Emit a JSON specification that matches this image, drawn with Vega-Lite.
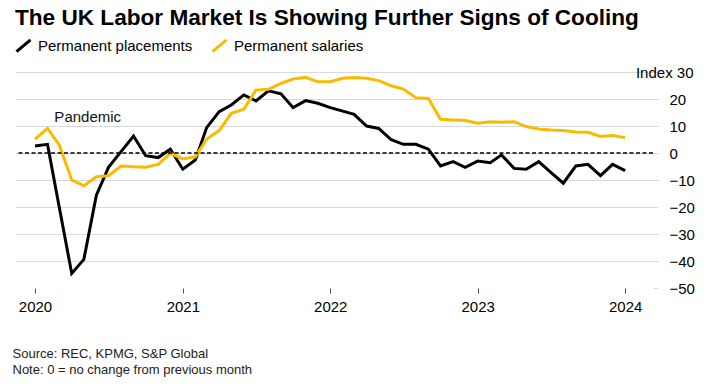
{
  "$schema": "https://vega.github.io/schema/vega-lite/v6.json",
  "width": 637,
  "height": 216,
  "autosize": "none",
  "padding": {"left": 16, "top": 72, "right": 63, "bottom": 102},
  "background": "white",
  "config": {"font": "Liberation Sans", "view": {"stroke": null}},
  "title": {
    "text": "The UK Labor Market Is Showing Further Signs of Cooling",
    "anchor": "start",
    "frame": "group",
    "fontSize": 22.6,
    "fontWeight": "bold",
    "color": "#000000",
    "offset": 7,
    "dx": -1
  },
  "datasets": {
    "series": [
      {"date": "2020-01-01T00:00", "series": "Permanent placements", "value": 2.6},
      {"date": "2020-02-01T00:00", "series": "Permanent placements", "value": 3.2},
      {"date": "2020-03-01T00:00", "series": "Permanent placements", "value": -20},
      {"date": "2020-04-01T00:00", "series": "Permanent placements", "value": -44.6},
      {"date": "2020-05-01T00:00", "series": "Permanent placements", "value": -39.4},
      {"date": "2020-06-01T00:00", "series": "Permanent placements", "value": -15.6},
      {"date": "2020-07-01T00:00", "series": "Permanent placements", "value": -5.3},
      {"date": "2020-08-01T00:00", "series": "Permanent placements", "value": 0.5},
      {"date": "2020-09-01T00:00", "series": "Permanent placements", "value": 6.3},
      {"date": "2020-10-01T00:00", "series": "Permanent placements", "value": -1.0},
      {"date": "2020-11-01T00:00", "series": "Permanent placements", "value": -1.7},
      {"date": "2020-12-01T00:00", "series": "Permanent placements", "value": 1.4},
      {"date": "2021-01-01T00:00", "series": "Permanent placements", "value": -6.0},
      {"date": "2021-02-01T00:00", "series": "Permanent placements", "value": -2.6},
      {"date": "2021-03-01T00:00", "series": "Permanent placements", "value": 9.4},
      {"date": "2021-04-01T00:00", "series": "Permanent placements", "value": 15.3},
      {"date": "2021-05-01T00:00", "series": "Permanent placements", "value": 17.8},
      {"date": "2021-06-01T00:00", "series": "Permanent placements", "value": 21.5},
      {"date": "2021-07-01T00:00", "series": "Permanent placements", "value": 19.3},
      {"date": "2021-08-01T00:00", "series": "Permanent placements", "value": 23.0},
      {"date": "2021-09-01T00:00", "series": "Permanent placements", "value": 21.9},
      {"date": "2021-10-01T00:00", "series": "Permanent placements", "value": 16.8},
      {"date": "2021-11-01T00:00", "series": "Permanent placements", "value": 19.4},
      {"date": "2021-12-01T00:00", "series": "Permanent placements", "value": 18.4},
      {"date": "2022-01-01T00:00", "series": "Permanent placements", "value": 16.8},
      {"date": "2022-02-01T00:00", "series": "Permanent placements", "value": 15.5},
      {"date": "2022-03-01T00:00", "series": "Permanent placements", "value": 14.3},
      {"date": "2022-04-01T00:00", "series": "Permanent placements", "value": 10.0},
      {"date": "2022-05-01T00:00", "series": "Permanent placements", "value": 9.1},
      {"date": "2022-06-01T00:00", "series": "Permanent placements", "value": 4.9},
      {"date": "2022-07-01T00:00", "series": "Permanent placements", "value": 3.2},
      {"date": "2022-08-01T00:00", "series": "Permanent placements", "value": 3.2},
      {"date": "2022-09-01T00:00", "series": "Permanent placements", "value": 1.4},
      {"date": "2022-10-01T00:00", "series": "Permanent placements", "value": -4.8},
      {"date": "2022-11-01T00:00", "series": "Permanent placements", "value": -3.2},
      {"date": "2022-12-01T00:00", "series": "Permanent placements", "value": -5.3},
      {"date": "2023-01-01T00:00", "series": "Permanent placements", "value": -3.0},
      {"date": "2023-02-01T00:00", "series": "Permanent placements", "value": -3.6},
      {"date": "2023-03-01T00:00", "series": "Permanent placements", "value": -0.7},
      {"date": "2023-04-01T00:00", "series": "Permanent placements", "value": -5.7},
      {"date": "2023-05-01T00:00", "series": "Permanent placements", "value": -6.0},
      {"date": "2023-06-01T00:00", "series": "Permanent placements", "value": -3.2},
      {"date": "2023-07-01T00:00", "series": "Permanent placements", "value": -7.2},
      {"date": "2023-08-01T00:00", "series": "Permanent placements", "value": -11.2},
      {"date": "2023-09-01T00:00", "series": "Permanent placements", "value": -4.8},
      {"date": "2023-10-01T00:00", "series": "Permanent placements", "value": -4.2},
      {"date": "2023-11-01T00:00", "series": "Permanent placements", "value": -8.4},
      {"date": "2023-12-01T00:00", "series": "Permanent placements", "value": -4.2},
      {"date": "2024-01-01T00:00", "series": "Permanent placements", "value": -6.5},
      {"date": "2020-01-01T00:00", "series": "Permanent salaries", "value": 5.1},
      {"date": "2020-02-01T00:00", "series": "Permanent salaries", "value": 9.1},
      {"date": "2020-03-01T00:00", "series": "Permanent salaries", "value": 3.0},
      {"date": "2020-04-01T00:00", "series": "Permanent salaries", "value": -10.0},
      {"date": "2020-05-01T00:00", "series": "Permanent salaries", "value": -12.1},
      {"date": "2020-06-01T00:00", "series": "Permanent salaries", "value": -8.8},
      {"date": "2020-07-01T00:00", "series": "Permanent salaries", "value": -8.4},
      {"date": "2020-08-01T00:00", "series": "Permanent salaries", "value": -4.8},
      {"date": "2020-09-01T00:00", "series": "Permanent salaries", "value": -5.1},
      {"date": "2020-10-01T00:00", "series": "Permanent salaries", "value": -5.3},
      {"date": "2020-11-01T00:00", "series": "Permanent salaries", "value": -4.2},
      {"date": "2020-12-01T00:00", "series": "Permanent salaries", "value": -0.1},
      {"date": "2021-01-01T00:00", "series": "Permanent salaries", "value": -2.2},
      {"date": "2021-02-01T00:00", "series": "Permanent salaries", "value": -1.4},
      {"date": "2021-03-01T00:00", "series": "Permanent salaries", "value": 5.2},
      {"date": "2021-04-01T00:00", "series": "Permanent salaries", "value": 8.3},
      {"date": "2021-05-01T00:00", "series": "Permanent salaries", "value": 14.7},
      {"date": "2021-06-01T00:00", "series": "Permanent salaries", "value": 16.2},
      {"date": "2021-07-01T00:00", "series": "Permanent salaries", "value": 23.3},
      {"date": "2021-08-01T00:00", "series": "Permanent salaries", "value": 23.6},
      {"date": "2021-09-01T00:00", "series": "Permanent salaries", "value": 25.8},
      {"date": "2021-10-01T00:00", "series": "Permanent salaries", "value": 27.4},
      {"date": "2021-11-01T00:00", "series": "Permanent salaries", "value": 28.0},
      {"date": "2021-12-01T00:00", "series": "Permanent salaries", "value": 26.4},
      {"date": "2022-01-01T00:00", "series": "Permanent salaries", "value": 26.4},
      {"date": "2022-02-01T00:00", "series": "Permanent salaries", "value": 27.7},
      {"date": "2022-03-01T00:00", "series": "Permanent salaries", "value": 28.0},
      {"date": "2022-04-01T00:00", "series": "Permanent salaries", "value": 27.7},
      {"date": "2022-05-01T00:00", "series": "Permanent salaries", "value": 26.8},
      {"date": "2022-06-01T00:00", "series": "Permanent salaries", "value": 24.9},
      {"date": "2022-07-01T00:00", "series": "Permanent salaries", "value": 23.7},
      {"date": "2022-08-01T00:00", "series": "Permanent salaries", "value": 20.5},
      {"date": "2022-09-01T00:00", "series": "Permanent salaries", "value": 20.2},
      {"date": "2022-10-01T00:00", "series": "Permanent salaries", "value": 12.5},
      {"date": "2022-11-01T00:00", "series": "Permanent salaries", "value": 12.2},
      {"date": "2022-12-01T00:00", "series": "Permanent salaries", "value": 12.0},
      {"date": "2023-01-01T00:00", "series": "Permanent salaries", "value": 11.0},
      {"date": "2023-02-01T00:00", "series": "Permanent salaries", "value": 11.6},
      {"date": "2023-03-01T00:00", "series": "Permanent salaries", "value": 11.4},
      {"date": "2023-04-01T00:00", "series": "Permanent salaries", "value": 11.6},
      {"date": "2023-05-01T00:00", "series": "Permanent salaries", "value": 9.8},
      {"date": "2023-06-01T00:00", "series": "Permanent salaries", "value": 8.9},
      {"date": "2023-07-01T00:00", "series": "Permanent salaries", "value": 8.5},
      {"date": "2023-08-01T00:00", "series": "Permanent salaries", "value": 8.3},
      {"date": "2023-09-01T00:00", "series": "Permanent salaries", "value": 7.8},
      {"date": "2023-10-01T00:00", "series": "Permanent salaries", "value": 7.7},
      {"date": "2023-11-01T00:00", "series": "Permanent salaries", "value": 6.1},
      {"date": "2023-12-01T00:00", "series": "Permanent salaries", "value": 6.5},
      {"date": "2024-01-01T00:00", "series": "Permanent salaries", "value": 5.7}
    ],
    "notes": [
      {"date": "2020-02-18T00:00", "value": 13.3, "label": "Pandemic"}
    ],
    "zero": [
      {"value": 0}
    ]
  },
  "layer": [
    {
      "data": {"name": "series"},
      "mark": {"type": "line", "strokeWidth": 3, "strokeJoin": "miter"},
      "encoding": {
        "x": {
          "field": "date",
          "type": "temporal",
          "scale": {"domain": [{"year": 2019, "month": 11, "date": 15}, {"year": 2024, "month": 3, "date": 10}]},
          "axis": {
            "title": ["Source: REC, KPMG, S&P Global", "Note: 0 = no change from previous month"],
            "titleAnchor": "start",
            "titleAlign": "left",
            "titleBaseline": "alphabetic",
            "titleX": -4,
            "titleY": 69,
            "titleFontSize": 13,
            "titleFontWeight": "normal",
            "titleColor": "#222222",
            "titleLineHeight": 16,
            "values": [{"year": 2020}, {"year": 2021}, {"year": 2022}, {"year": 2023}, {"year": 2024}],
            "tickCount": 10,
            "format": "%Y",
            "grid": false,
            "domain": false,
            "ticks": true,
            "tickSize": 5,
            "tickColor": "#555555",
            "labelFontSize": 15,
            "labelColor": "#000000",
            "labelPadding": 6
          }
        },
        "y": {
          "field": "value",
          "type": "quantitative",
          "scale": {"domain": [-50, 30], "nice": false},
          "axis": {
            "orient": "right",
            "title": null,
            "values": [-50, -40, -30, -20, -10, 0, 10, 20, 30],
            "tickCount": 12,
            "labelExpr": "datum.value == 30 ? 'Index 30' : datum.label",
            "labelAlign": {"condition": {"test": "datum.value == 30", "value": "right"}, "value": "left"},
            "labelPadding": {"condition": {"test": "datum.value == 30", "value": 35}, "value": 11},
            "labelOverlap": false,
            "labelFontSize": 15,
            "labelColor": "#000000",
            "domain": false,
            "tickSize": 5,
            "tickColor": "#d9d9d9",
            "grid": true,
            "gridColor": "#d9d9d9",
            "gridOpacity": {"condition": {"test": "datum.value == -50", "value": 0}, "value": 1}
          }
        },
        "color": {
          "field": "series",
          "type": "nominal",
          "scale": {"domain": ["Permanent placements", "Permanent salaries"], "range": ["#000000", "#f7bb00"]},
          "legend": {
            "title": null,
            "orient": "none",
            "legendX": -1,
            "legendY": -35,
            "direction": "horizontal",
            "symbolType": "M-1,0.85L1,-0.85",
            "symbolSize": 196,
            "symbolStrokeWidth": 3,
            "labelFontSize": 15,
            "labelColor": "#000000",
            "labelOffset": 6,
            "columnPadding": 13
          }
        }
      }
    },
    {
      "data": {"name": "zero"},
      "mark": {"type": "rule", "color": "#000000", "strokeWidth": 1.5, "strokeDash": [4, 2.5]},
      "encoding": {"y": {"field": "value", "type": "quantitative"}}
    },
    {
      "data": {"name": "notes"},
      "mark": {"type": "text", "align": "left", "baseline": "middle", "fontSize": 15, "color": "#111111"},
      "encoding": {
        "x": {"field": "date", "type": "temporal"},
        "y": {"field": "value", "type": "quantitative"},
        "text": {"field": "label"}
      }
    }
  ]
}
